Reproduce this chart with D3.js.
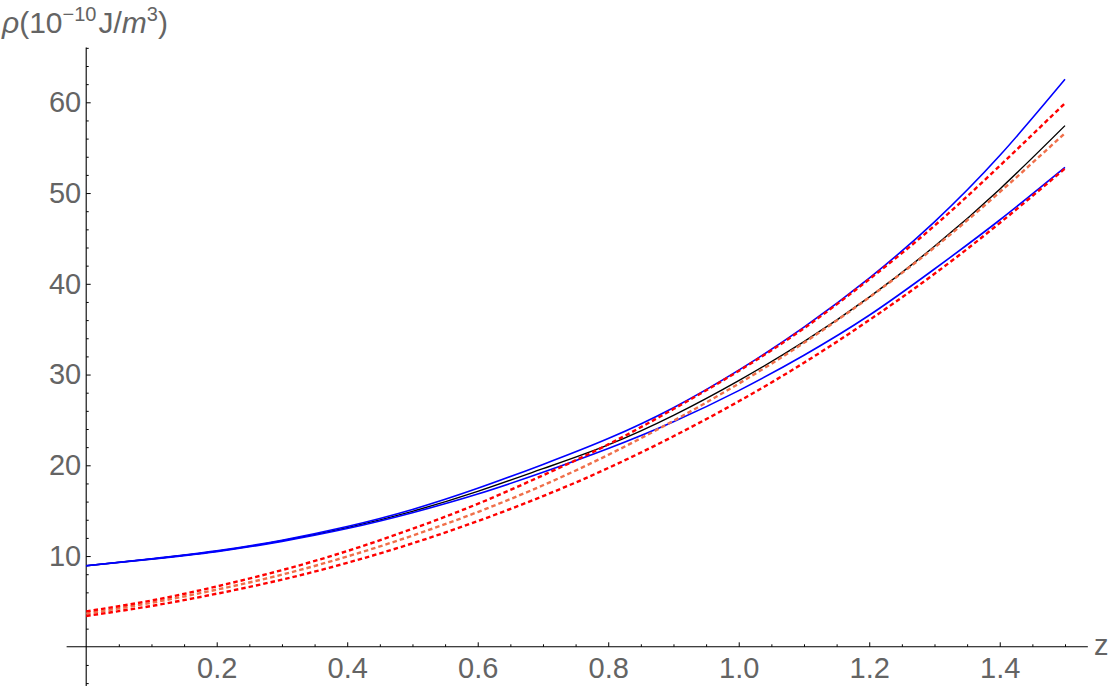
<!DOCTYPE html>
<meta charset="utf-8">
<style>
body { margin: 0; background: #fff; }
svg { display: block; font-family: "Liberation Sans", Arial, sans-serif; }
.lab { fill: #646464; }
.axis text { fill: #646464; font-size: 29px; }
.axis line { stroke: #000; }
</style>
<body>
<svg width="1120" height="686"></svg>
<script src="https://d3js.org/d3.v7.min.js"></script>
<script>

// redshift samples
var zs = [0, 0.1, 0.2, 0.3, 0.4, 0.5, 0.6, 0.7, 0.8, 0.9, 1.0, 1.1, 1.2, 1.3, 1.4, 1.5];

// solid curves
var blueUpper = [8.93, 9.70, 10.57, 11.75, 13.25, 15.13, 17.46, 20.10, 22.95, 26.35, 30.48, 35.23, 40.63, 46.83, 54.13, 62.53];
var central   = [8.93, 9.68, 10.53, 11.68, 13.13, 14.93, 17.13, 19.63, 22.25, 25.50, 29.33, 33.63, 38.53, 44.13, 50.43, 57.43];
var blueLower = [8.93, 9.66, 10.49, 11.62, 13.03, 14.78, 16.83, 19.23, 21.85, 24.80, 28.23, 32.13, 36.53, 41.63, 47.03, 52.83];

// dashed curves
var redUpper  = [3.90, 5.10, 6.65, 8.45, 10.55, 13.00, 15.75, 18.90, 22.30, 26.20, 30.40, 35.10, 40.50, 46.40, 53.00, 59.90];
var orangeMid = [3.65, 4.85, 6.30, 7.95, 9.95, 12.25, 14.85, 17.80, 21.15, 24.90, 29.00, 33.50, 38.50, 44.00, 50.10, 56.60];
var redLower  = [3.40, 4.50, 5.85, 7.40, 9.25, 11.40, 13.85, 16.60, 19.70, 23.20, 27.05, 31.30, 36.00, 41.10, 46.70, 52.70];

var xTicks = [0.2, 0.4, 0.6, 0.8, 1.0, 1.2, 1.4];
var yTicks = [10, 20, 30, 40, 50, 60];

var svg = d3.select("svg");

var x = d3.scaleLinear().domain([0, 1.5]).range([86.2, 1065]);
var y = d3.scaleLinear().domain([0, 60]).range([646.8, 102.3]);

// minor ticks
var xMinor = d3.range(0.05, 1.5001, 0.05).filter(function(d) { return Math.abs(d * 5 - Math.round(d * 5)) > 1e-6; });
var yMinor = d3.range(-4, 66.01, 2).filter(function(d) { return d % 10 !== 0; });

var gx = svg.append("g").attr("class", "axis").attr("transform", "translate(0," + y(0) + ")");
gx.call(d3.axisBottom(x).tickValues(xTicks).tickFormat(d3.format(".1f")).tickSizeInner(-4.5).tickSizeOuter(0).tickPadding(11));
gx.select(".domain").remove();
gx.selectAll(".tick text").attr("dy", "0.71em");
var gxm = svg.append("g").attr("class", "axis").attr("transform", "translate(0," + y(0) + ")");
gxm.call(d3.axisBottom(x).tickValues(xMinor).tickFormat("").tickSizeInner(-2.5).tickSizeOuter(0));
gxm.select(".domain").remove();

var gy = svg.append("g").attr("class", "axis").attr("transform", "translate(" + x(0) + ",0)");
gy.call(d3.axisLeft(y).tickValues(yTicks).tickFormat(d3.format("d")).tickSizeInner(-4.5).tickSizeOuter(0).tickPadding(5));
gy.select(".domain").remove();
var gym = svg.append("g").attr("class", "axis").attr("transform", "translate(" + x(0) + ",0)");
gym.call(d3.axisLeft(y).tickValues(yMinor).tickFormat("").tickSizeInner(-2.5).tickSizeOuter(0));
gym.select(".domain").remove();

// axis lines
svg.append("line").attr("x1", x(-0.03)).attr("x2", x(1.535)).attr("y1", y(0)).attr("y2", y(0))
  .attr("stroke", "#000").attr("stroke-width", 1.1);
svg.append("line").attr("x1", x(0)).attr("x2", x(0)).attr("y1", y(66.05)).attr("y2", 686)
  .attr("stroke", "#000").attr("stroke-width", 1.1);

// curves (black first so the blue bounds sit on top of it where they meet)
var line = d3.line()
  .x(function(d, i) { return x(zs[i]); })
  .y(function(d) { return y(d); })
  .curve(d3.curveNatural);

var series = [
  {v: central,   c: "#000000", w: 1.4, dash: null},
  {v: blueUpper, c: "#0000ff", w: 1.6, dash: null},
  {v: blueLower, c: "#0000ff", w: 1.6, dash: null},
  {v: orangeMid, c: "#f0704a", w: 2.4, dash: "4.5,3"},
  {v: redLower,  c: "#ff0000", w: 2.4, dash: "4.5,3"},
  {v: redUpper,  c: "#ff0000", w: 2.4, dash: "4.5,3"}
];

svg.append("g").selectAll("path")
  .data(series)
  .enter().append("path")
    .attr("d", function(d) { return line(d.v); })
    .attr("fill", "none")
    .attr("stroke", function(d) { return d.c; })
    .attr("stroke-width", function(d) { return d.w; })
    .attr("stroke-dasharray", function(d) { return d.dash; });

// axis labels
var t = svg.append("text").attr("class", "lab").attr("x", 2).attr("y", 33).attr("font-size", 30);
t.append("tspan").attr("font-style", "italic").text("ρ");
t.append("tspan").text("(10");
t.append("tspan").attr("font-size", 20).attr("dy", -12).text("−10");
t.append("tspan").attr("dy", 12).attr("dx", 2).text("J/");
t.append("tspan").attr("font-style", "italic").text("m");
t.append("tspan").attr("font-size", 20).attr("dy", -12).text("3");
t.append("tspan").attr("dy", 12).text(")");

svg.append("text").attr("class", "lab").attr("x", 1094).attr("y", 655).attr("font-size", 29).text("z");

</script>
</body>
